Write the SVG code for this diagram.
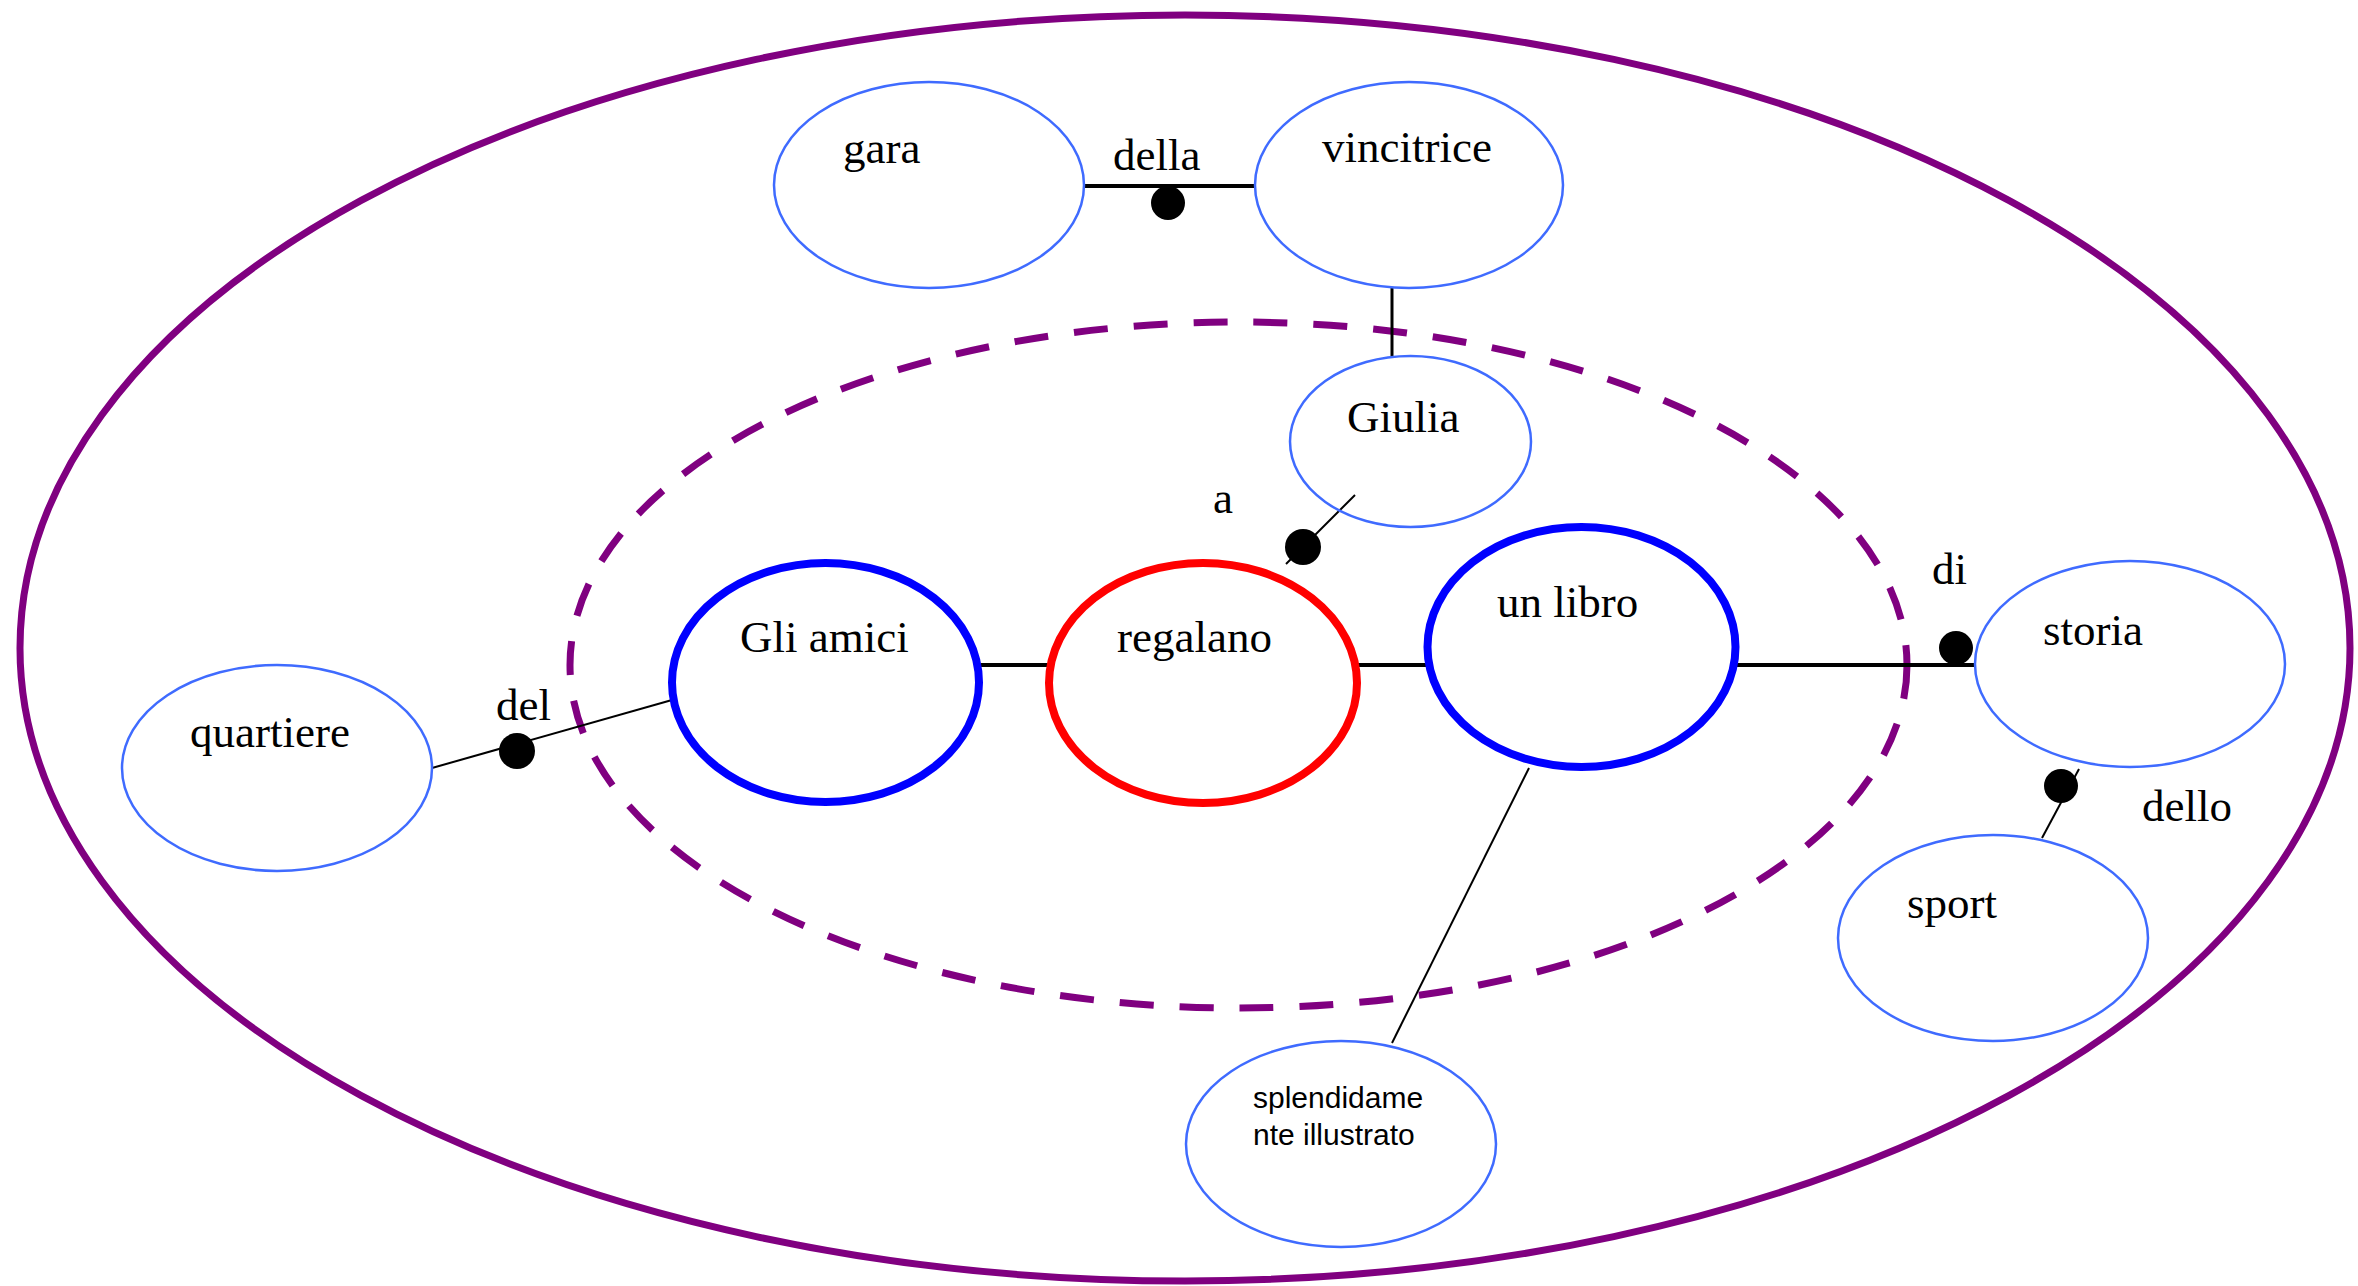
<svg xmlns="http://www.w3.org/2000/svg" width="2358" height="1286" viewBox="0 0 2358 1286">
<style>
.frame{fill:none;stroke:#800080;stroke-width:7}
.dash{fill:none;stroke:#800080;stroke-width:7;stroke-dasharray:34 26}
.thin{fill:none;stroke:#3f6bff;stroke-width:2.5}
.blue{fill:none;stroke:#0000ff;stroke-width:8}
.red{fill:none;stroke:#ff0000;stroke-width:8}
.t{font-family:"Liberation Serif","Times New Roman",serif;font-size:45px;fill:#000}
.s{font-family:"Liberation Sans",Arial,sans-serif;font-size:30px;fill:#000}
.ln{stroke:#000;fill:none}
.dot{fill:#000}
</style>
<rect width="2358" height="1286" fill="#fff"/>
<ellipse class="frame" cx="1185" cy="648" rx="1165" ry="633"/>
<ellipse class="dash" cx="1238.5" cy="665" rx="668.5" ry="343"/>

<g id="connectors">
  <line class="ln" x1="1084" y1="186" x2="1256" y2="186" stroke-width="4"/>
  <circle class="dot" cx="1168" cy="203" r="17"/>
  <line class="ln" x1="1392" y1="288" x2="1392" y2="357" stroke-width="3"/>
  <line class="ln" x1="1355" y1="495" x2="1286" y2="564" stroke-width="2"/>
  <circle class="dot" cx="1303" cy="547" r="18"/>
  <line class="ln" x1="432" y1="768" x2="672" y2="700" stroke-width="2"/>
  <circle class="dot" cx="517" cy="751" r="18"/>
  <line class="ln" x1="981" y1="665" x2="1049" y2="665" stroke-width="4"/>
  <line class="ln" x1="1357" y1="665" x2="1427" y2="665" stroke-width="4"/>
  <line class="ln" x1="1735" y1="665" x2="1976" y2="665" stroke-width="4"/>
  <circle class="dot" cx="1956" cy="648" r="17"/>
  <line class="ln" x1="2079" y1="769" x2="2042" y2="838" stroke-width="2"/>
  <circle class="dot" cx="2061" cy="786" r="17"/>
  <line class="ln" x1="1529" y1="768" x2="1392" y2="1043" stroke-width="2"/>
  <text class="t" x="1113" y="170">della</text>
  <text class="t" x="1213" y="513">a</text>
  <text class="t" x="496" y="720">del</text>
  <text class="t" x="1932" y="584">di</text>
  <text class="t" x="2142" y="821">dello</text>
</g>

<g id="gara">
  <ellipse class="thin" cx="929" cy="185" rx="155" ry="103"/>
  <text class="t" x="843" y="163">gara</text>
</g>
<g id="vincitrice">
  <ellipse class="thin" cx="1409" cy="185" rx="154" ry="103"/>
  <text class="t" x="1322" y="162">vincitrice</text>
</g>
<g id="giulia">
  <ellipse class="thin" cx="1410.5" cy="441.5" rx="120.5" ry="85.5"/>
  <text class="t" x="1347" y="432">Giulia</text>
</g>
<g id="quartiere">
  <ellipse class="thin" cx="277" cy="768" rx="155" ry="103"/>
  <text class="t" x="190" y="747">quartiere</text>
</g>
<g id="gli-amici">
  <ellipse class="blue" cx="825.5" cy="682.5" rx="153.5" ry="119.5"/>
  <text class="t" x="740" y="652">Gli amici</text>
</g>
<g id="regalano">
  <ellipse class="red" cx="1203" cy="683" rx="154" ry="120"/>
  <text class="t" x="1117" y="652">regalano</text>
</g>
<g id="un-libro">
  <ellipse class="blue" cx="1581.5" cy="647" rx="154" ry="120"/>
  <text class="t" x="1497" y="617">un libro</text>
</g>
<g id="storia">
  <ellipse class="thin" cx="2130" cy="664" rx="155" ry="103"/>
  <text class="t" x="2043" y="645">storia</text>
</g>
<g id="sport">
  <ellipse class="thin" cx="1993" cy="938" rx="155" ry="103"/>
  <text class="t" x="1907" y="918">sport</text>
</g>
<g id="splendidamente">
  <ellipse class="thin" cx="1341" cy="1144" rx="155" ry="103"/>
  <text class="s" x="1253" y="1108">splendidame</text>
  <text class="s" x="1253" y="1145">nte illustrato</text>
</g>
</svg>
